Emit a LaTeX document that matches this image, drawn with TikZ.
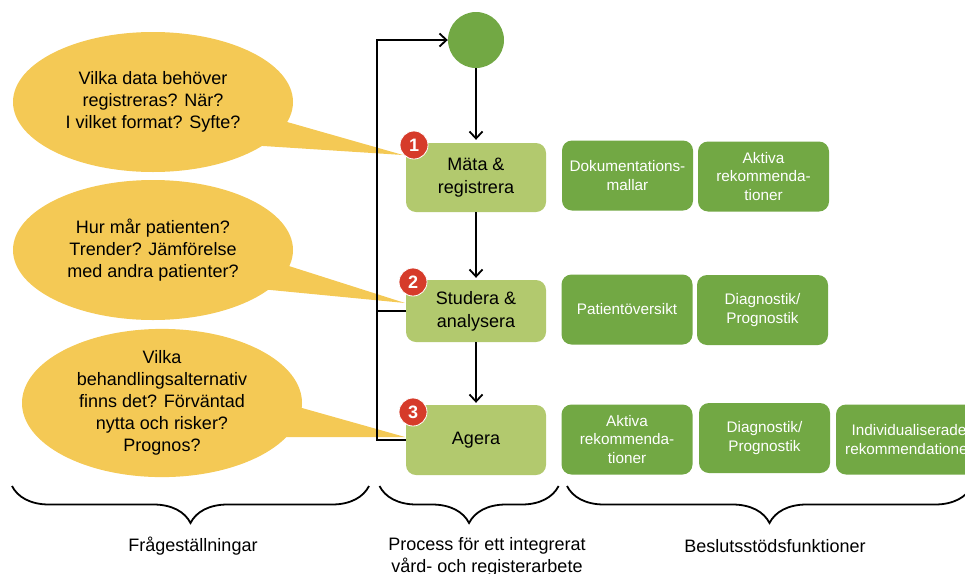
\documentclass[tikz,border=0pt]{standalone}
\usepackage{fontspec}
\setmainfont{Liberation Sans}
\usetikzlibrary{shapes.geometric,arrows.meta,decorations.pathreplacing}
\definecolor{bubbleyellow}{RGB}{244,201,85}
\definecolor{lightgreen}{RGB}{178,201,110}
\definecolor{darkgreen}{RGB}{114,168,68}
\definecolor{badgered}{RGB}{214,59,42}
\tikzset{
 bubble/.style={ellipse, fill=bubbleyellow, minimum width=280pt, minimum height=140pt, inner sep=0pt, align=center, font=\fontsize{18}{22}\selectfont},
 tailfill/.style={fill=bubbleyellow},
 stepbox/.style={rectangle, rounded corners=10pt, fill=lightgreen, minimum width=140pt, align=center, font=\fontsize{18}{23}\selectfont, inner sep=0pt},
 funcbox/.style={rectangle, rounded corners=10pt, fill=darkgreen, text=white, align=center, font=\fontsize{15.3}{18.4}\selectfont, inner sep=0pt, minimum width=131pt, minimum height=70pt},
 badge/.style={circle, fill=badgered, draw=white, line width=0.8pt, text=white, font=\bfseries\fontsize{18}{18}\selectfont, minimum size=28pt, inner sep=0pt},
 conn/.style={line width=1.8pt, black},
 arr/.style={conn, -{Straight Barb[length=7pt,width=13pt,line width=1.8pt]}},
 bracestyle/.style={decorate, decoration={brace, amplitude=37pt}, line width=1.8pt},
 bottomlabel/.style={font=\fontsize{18}{22}\selectfont, align=center, inner sep=0pt}
}
\begin{document}
\begin{tikzpicture}[x=1pt,y=-1pt]
\useasboundingbox (0,0) rectangle (965,573);
\clip (0,0) rectangle (965,573);

% speech bubbles
\node[bubble] (b1) at (153,102) {Vilka data behöver\\registreras? När?\\I vilket format? Syfte?};
\node[bubble] (b2) at (153,250) {Hur mår patienten?\\Trender? Jämförelse\\med andra patienter?};
\node[bubble] (b3) at (162,403) {Vilka\\behandlingsalternativ\\finns det? Förväntad\\nytta och risker?\\Prognos?};
\coordinate (t1) at (403,155);
\coordinate (t2) at (405,303);
\coordinate (t3) at (405,437);
\fill[tailfill] (265,115.7) -- (t1) -- (240,144.5) -- cycle;
\fill[tailfill] (270,260) -- (t2) -- (250,288) -- cycle;
\fill[tailfill] (280,401.8) -- (t3) -- (265,437) -- cycle;

% process
\node[circle, fill=darkgreen, minimum size=56pt, inner sep=0pt] (start) at (476,40) {};
\node[stepbox, minimum height=69pt] (m1) at (476,177.5) {Mäta \&\\registrera};
\node[stepbox, minimum height=62pt] (m2) at (476,311) {Studera \&\\analysera};
\node[stepbox, minimum height=70pt] (m3) at (476,440) {Agera};

\draw[arr, shorten >=3pt] (start) -- (m1);
\draw[arr, shorten >=2pt] (m1) -- (m2);
\draw[arr, shorten >=2pt] (m2) -- (m3);
\draw[arr] (m3.west) -- ++(-29,0) |- (start.west);
\draw[conn] (m2.west) -- ++(-29,0);

\node[badge] (n1) at (414,145) {1};
\node[badge] (n2) at (413,282) {2};
\node[badge] (n3) at (413,412) {3};

% decision support functions
\node[funcbox] (f11) at (627.5,175.5) {Dokumentations-\\mallar};
\node[funcbox] (f12) at (763.5,176.5) {Aktiva\\rekommenda-\\tioner};
\node[funcbox] (f21) at (627,309.5) {Patientöversikt};
\node[funcbox] (f22) at (762.5,310) {Diagnostik/\\Prognostik};
\node[funcbox] (f31) at (627,439.5) {Aktiva\\rekommenda-\\tioner};
\node[funcbox] (f32) at (764.5,438) {Diagnostik/\\Prognostik};
\node[funcbox, minimum width=146pt] (f33) at (909,439.5) {Individualiserade\\rekommendationer};

% braces
\draw[bracestyle] (369,486) -- (12,486);
\draw[bracestyle] (558.6,486) -- (379.5,486);
\draw[bracestyle] (972,486) -- (567,486);

\node[bottomlabel] (l1) at (193,546) {Frågeställningar};
\node[bottomlabel] (l2) at (487,557) {Process för ett integrerat\\vård- och registerarbete};
\node[bottomlabel] (l3) at (775,546) {Beslutsstödsfunktioner};
\end{tikzpicture}
\end{document}
